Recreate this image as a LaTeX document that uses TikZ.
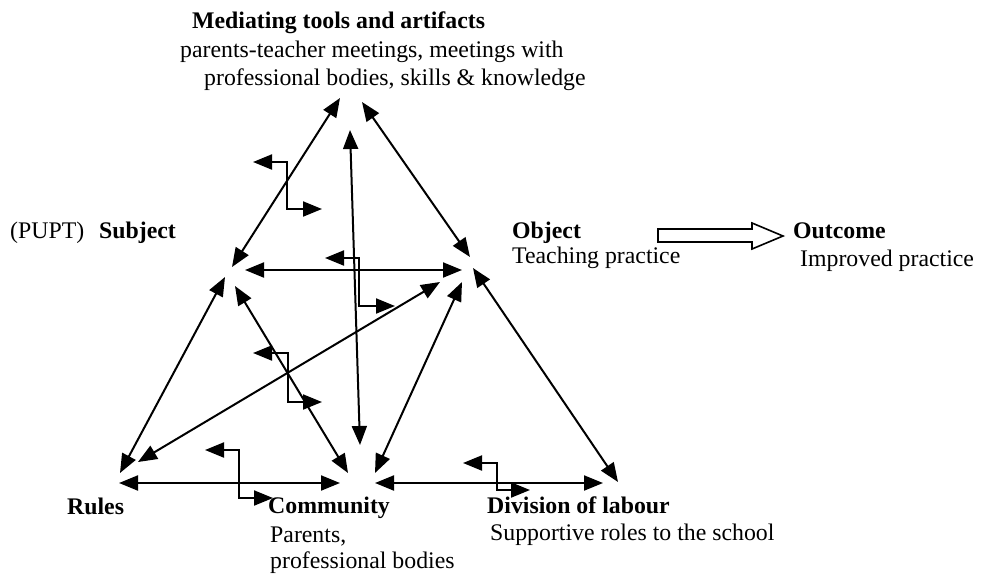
\documentclass[tikz,border=0pt]{standalone}
\usepackage{fontspec}
\setmainfont{Liberation Serif}
\usetikzlibrary{arrows.meta}
\begin{document}
\begin{tikzpicture}[x=1pt,y=-1pt,
  lbl/.style={anchor=base west,inner sep=0pt,font=\fontsize{23.8}{28}\selectfont},
  head/.style={lbl,font=\fontsize{23.8}{28}\selectfont\bfseries},
  link/.style={line width=2pt,{Triangle[length=19pt,width=15pt]}-{Triangle[length=19pt,width=15pt]}},
  elbow/.style={link,line join=miter}]
\useasboundingbox (0,0) rectangle (982,574);

% labels
\node[head] (med) at (192,28) {Mediating tools and artifacts};
\node[lbl] (med1) at (180,57) {parents-teacher meetings, meetings with};
\node[lbl] (med2) at (204,85) {professional bodies, skills \& knowledge};
\node[lbl] (pupt) at (10,238) {(PUPT)};
\node[head] (subj) at (99,238) {Subject};
\node[head] (obj) at (512,238) {Object};
\node[lbl] (obj1) at (512,263) {Teaching practice};
\node[head] (out) at (793,238) {Outcome};
\node[lbl] (out1) at (800,266) {Improved practice};
\node[head] (rules) at (67,514) {Rules};
\node[head] (comm) at (268,513) {Community};
\node[lbl] (comm1) at (270,542) {Parents,};
\node[lbl] (comm2) at (270,568) {professional bodies};
\node[head] (div) at (487,513) {Division of labour};
\node[lbl] (div1) at (490,540) {Supportive roles to the school};

% arrow end points
\coordinate (mL) at (340,98);
\coordinate (mR) at (362,102);
\coordinate (mC) at (350,130);
\coordinate (sT) at (232,267);
\coordinate (sR) at (245,270);
\coordinate (sB) at (225,277);
\coordinate (sC) at (235,286);
\coordinate (oT) at (470,257);
\coordinate (oL) at (462,270);
\coordinate (oD) at (440,282);
\coordinate (oC) at (462,282);
\coordinate (oR) at (473,268);
\coordinate (rT) at (120,473);
\coordinate (rD) at (138,462);
\coordinate (rR) at (119,483);
\coordinate (cS) at (348,473);
\coordinate (cM) at (360,445);
\coordinate (cO) at (375,473);
\coordinate (cL) at (340,483);
\coordinate (cR) at (375,483);
\coordinate (dL) at (603,483);
\coordinate (dT) at (618,482);

% triangle connectors
\draw[link] (mL) -- (sT);
\draw[link] (mR) -- (oT);
\draw[link] (mC) -- (cM);
\draw[link] (sR) -- (oL);
\draw[link] (sB) -- (rT);
\draw[link] (sC) -- (cS);
\draw[link] (rD) -- (oD);
\draw[link] (cO) -- (oC);
\draw[link] (oR) -- (dT);
\draw[link] (rR) -- (cL);
\draw[link] (cR) -- (dL);

% elbow connectors
\coordinate (e1a) at (253,162); \coordinate (e1b) at (322,209);
\coordinate (e2a) at (325,258); \coordinate (e2b) at (395,306);
\coordinate (e3a) at (253,353); \coordinate (e3b) at (322,402);
\coordinate (e4a) at (205,450); \coordinate (e4b) at (273,498);
\coordinate (e5a) at (463,463); \coordinate (e5b) at (530,490);
\draw[elbow] (e1a) -- (287,162) -- (287,209) -- (e1b);
\draw[elbow] (e2a) -- (359,258) -- (359,306) -- (e2b);
\draw[elbow] (e3a) -- (288,353) -- (288,402) -- (e3b);
\draw[elbow] (e4a) -- (239,450) -- (239,498) -- (e4b);
\draw[elbow] (e5a) -- (497,463) -- (497,490) -- (e5b);

% block arrow from object to outcome
\draw[line width=1.6pt,line join=miter] (658,229) -- (752,229) -- (752,223) -- (783,236)
  -- (752,249) -- (752,242) -- (658,242) -- cycle;
\end{tikzpicture}
\end{document}
